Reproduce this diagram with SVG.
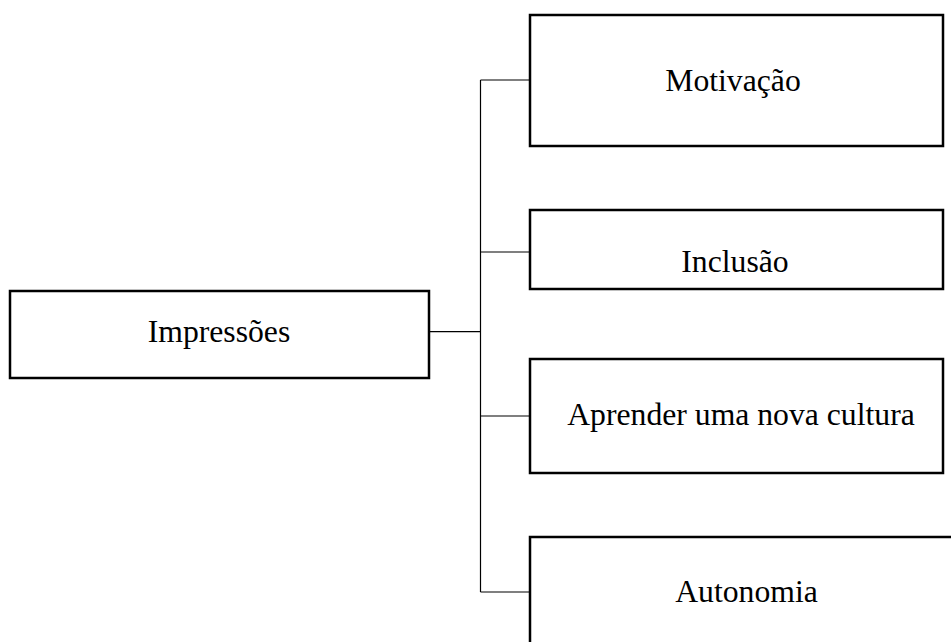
<svg xmlns="http://www.w3.org/2000/svg" width="951" height="642" viewBox="0 0 951 642">
<style>
.box{fill:#fff;stroke:#000;stroke-width:2.5}
.lbl{font-family:"Liberation Serif","Times New Roman",serif;font-size:31.7px;fill:#000;text-anchor:middle}
.con{fill:none;stroke:#000;stroke-width:1.2}
</style>
<rect width="951" height="642" fill="#fff"/>
<g id="connectors">
<path class="con" d="M429 331.7H480.5M480.5 80V592M480.5 80H530M480.5 252H530M480.5 416H530M480.5 592H530"/>
</g>
<g id="impressoes">
<rect class="box" x="10" y="291" width="419" height="87"/>
<text class="lbl" x="219" y="341.7">Impressões</text>
</g>
<g id="motivacao">
<rect class="box" x="530" y="15" width="413" height="131"/>
<text class="lbl" x="733" y="90.7">Motivação</text>
</g>
<g id="inclusao">
<rect class="box" x="530" y="210" width="413" height="79"/>
<text class="lbl" x="735" y="271.7">Inclusão</text>
</g>
<g id="aprender">
<rect class="box" x="530" y="359" width="413" height="114"/>
<text class="lbl" x="741" y="425">Aprender uma nova cultura</text>
</g>
<g id="autonomia">
<rect class="box" x="530" y="537" width="440" height="130"/>
<text class="lbl" x="746.5" y="601.7">Autonomia</text>
</g>
</svg>
